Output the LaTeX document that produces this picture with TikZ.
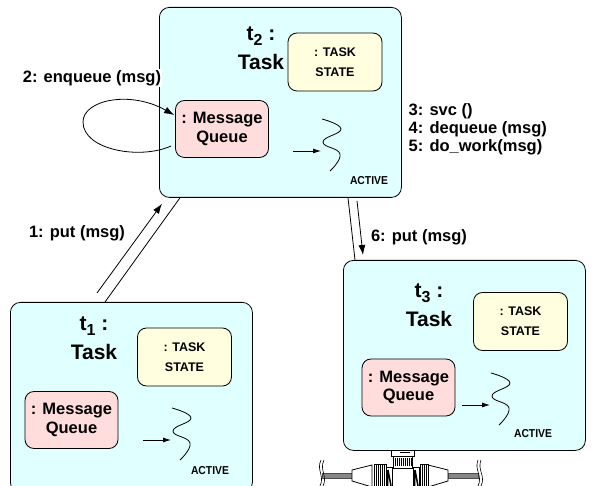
\documentclass[tikz,border=0pt]{standalone}
\usepackage{fontspec}
\setmainfont{Liberation Sans}
\usetikzlibrary{arrows.meta,calc}

\definecolor{taskcyan}{RGB}{224,255,255}
\definecolor{stateyellow}{RGB}{255,255,224}
\definecolor{queuepink}{RGB}{255,221,221}
\definecolor{cablegray}{RGB}{135,135,135}

\tikzset{
  taskbox/.style={draw, rounded corners=10pt, fill=taskcyan, minimum width=242pt, minimum height=190pt, anchor=north west},
  statebox/.style={draw, rounded corners=9pt, fill=stateyellow, minimum width=94pt, minimum height=58pt, align=center, font=\fontsize{12.5}{20}\selectfont\bfseries},
  queuebox/.style={draw, rounded corners=9pt, fill=queuepink, minimum width=93pt, minimum height=57pt, align=center, font=\fontsize{16.5}{18.5}\selectfont\bfseries},
  tasklabel/.style={align=center, font=\fontsize{21}{29}\selectfont\bfseries},
  activelabel/.style={font=\fontsize{11.5}{12}\selectfont\bfseries\addfontfeatures{FakeStretch=0.9}},
  msglabel/.style={font=\fontsize{16.5}{18}\selectfont\bfseries},
}

\begin{document}
\begin{tikzpicture}[x=1pt, y=-1pt, line width=0.8pt, >={Latex[length=10pt,width=7pt]}]
\useasboundingbox (0,0) rectangle (592,486);
\clip (0,0) rectangle (592,486);

% task t2
\node[taskbox] (t2) at (159,7) {};
\node[tasklabel] (t2name) at (261,48) {t\raisebox{-5pt}{\fontsize{16}{16}\selectfont 2} :\\Task};
\node[statebox] (st2) at (335,62) {: TASK\\STATE};
\node[queuebox] (mq2) at (222,129) {: Message\\Queue};
\node[activelabel] (ac2) at (369,181) {ACTIVE};
\coordinate (th2) at (322,119);

% task t1
\node[taskbox] (t1) at (10,302) {};
\node[tasklabel] (t1name) at (94,338) {t\raisebox{-5pt}{\fontsize{16}{16}\selectfont 1} :\\Task};
\node[statebox] (st1) at (184.5,357) {: TASK\\STATE};
\node[queuebox] (mq1) at (71.5,420) {: Message\\Queue};
\node[activelabel] (ac1) at (210,471) {ACTIVE};
\coordinate (th1) at (172,408);

% task t3
\node[taskbox] (t3) at (343,260) {};
\node[tasklabel] (t3name) at (429,305) {t\raisebox{-5pt}{\fontsize{16}{16}\selectfont 3} :\\Task};
\node[statebox] (st3) at (520.5,321.5) {: TASK\\STATE};
\node[queuebox] (mq3) at (408.5,387.5) {: Message\\Queue};
\node[activelabel] (ac3) at (533,434) {ACTIVE};
\coordinate (th3) at (491,373);

% threads
\foreach \th in {th1,th2,th3}{
  \begin{scope}[shift={(\th)}]
    \draw plot[smooth, tension=0.8] coordinates {(0,0) (19,10) (1,23) (18,35) (8,52)};
    \draw[-{Latex[length=8pt,width=5pt]}] (-29,32) -- (-1,32);
  \end{scope}
}

% 1: put (msg)
\coordinate (put1a) at ($(t1.north west)+(87,-9)$);
\coordinate (put1b) at ($(t2.south west)+(3,6)$);
\draw[->] (put1a) -- (put1b);
\draw ($(t1.north west)+(95,0)$) -- ($(t2.south west)+(21,0)$);
\node[msglabel] (put1) at (77,233) {1: put (msg)};

% 6: put (msg)
\coordinate (put6a) at ($(t2.south west)+(198,3)$);
\coordinate (put6b) at ($(t3.north west)+(20,-5)$);
\draw ($(t2.south west)+(189,0)$) -- ($(t3.north west)+(12,0)$);
\draw[->] (put6a) -- (put6b);
\node[msglabel] (put6) at (419,237) {6: put (msg)};

% 2: enqueue (msg), self loop on the queue
\node[msglabel, fill=white, inner sep=1pt] (enq) at (92,78) {2: enqueue (msg)};
\coordinate (loopa) at ($(mq2.west)+(-4,17)$);
\coordinate (loopb) at ($(mq2.west)+(-1,-14)$);
\draw[->] (loopa) .. controls (140,160) and (83,150) .. (83,122)
  .. controls (83,100) and (130,90) .. (loopb);

% 3-5
\node[msglabel, align=left, anchor=west] (svc) at (405,129) {3: svc ()\\4: dequeue (msg)\\5: do\_work(msg)};

% coax tap under t3
\draw[draw=black!70, fill=cablegray] (322,473.5) rectangle (352,478.5);
\draw[draw=black!70, fill=cablegray] (448,473.5) rectangle (478,478.5);
\draw[line width=0.6pt] (321,460) .. controls (316,470) and (325,476) .. (320,486);
\draw[line width=0.6pt] (324,460) .. controls (319,470) and (328,476) .. (323,486);
\draw[line width=0.6pt] (478,460) .. controls (474,470) and (483,476) .. (478,486);
\draw[line width=0.6pt] (481,460) .. controls (477,470) and (486,476) .. (481,486);
\draw[fill=white] (352,470) -- (372,465) -- (372,487) -- (352,481) -- cycle;
\draw[fill=white] (448,470) -- (428,465) -- (428,487) -- (448,481) -- cycle;
\draw[fill=white] (374,464) rectangle (386,487);
\draw[fill=white] (420,464) rectangle (428,487);
\foreach \x in {376,378,...,384} \draw[line width=0.5pt] (\x,464) -- (\x,487);
\foreach \x in {422,424,426} \draw[line width=0.5pt] (\x,464) -- (\x,487);
\draw[fill=white] (386,467) rectangle (392,486);
\draw[fill=white] (413,467) rectangle (419,486);
\draw[line width=1.5pt] (387.5,470) -- (387.5,486) (388,470) -- (391,486);
\draw[line width=1.5pt] (414.5,470) -- (414.5,486) (415,470) -- (418,486);
\draw[fill=white] (392,468) rectangle (413,487);
\draw[fill=white] (393,456) rectangle (412,468);
\foreach \x in {395,397,...,411} \draw[line width=0.5pt] (\x,458) -- (\x,466);
\draw[fill=white] (391,450) rectangle (414,456);
\draw[line width=1.5pt] (400,452.5) -- (410,452.5);
\end{tikzpicture}
\end{document}
